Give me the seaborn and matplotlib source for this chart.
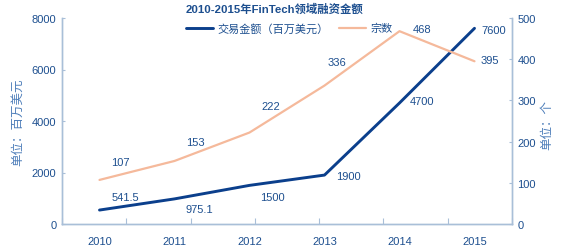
import numpy as np
import pandas as pd
import matplotlib
matplotlib.use("Agg")
import matplotlib.pyplot as plt
import seaborn as sns

years = ["2010", "2011", "2012", "2013", "2014", "2015"]
amount = [541.5, 975.1, 1500, 1900, 4700, 7600]
deals = [107, 153, 222, 336, 468, 395]
amount_labels = ["541.5", "975.1", "1500", "1900", "4700", "7600"]
deal_labels = ["107", "153", "222", "336", "468", "395"]

sns.set_theme(style="white")
plt.rcParams['font.family'] = ['Liberation Sans', 'Noto Sans CJK SC', 'DejaVu Sans']

BLUE = "#0b3f8c"
ORANGE = "#f5b99b"
TXT = "#1d4f8f"
SPINE = "#a9bfd8"
LAB = "#4f7fba"
FS = 8.0

df = pd.DataFrame({"x": np.arange(len(years)), "year": years,
                   "amount": amount, "deals": deals})

fig = plt.figure(figsize=(5.61, 2.51), dpi=100)
W, H = 561, 251
ax = fig.add_axes([62 / W, (H - 225) / H, 450 / W, (225 - 19) / H])
ax2 = ax.twinx()

sns.lineplot(data=df, x="x", y="amount", ax=ax, color=BLUE, lw=2.1,
             label="交易金额（百万美元）", legend=False)
sns.lineplot(data=df, x="x", y="deals", ax=ax2, color=ORANGE, lw=1.6,
             label="宗数", legend=False)

ax.set_xlim(-0.5, 5.5)
ax.set_ylim(0, 8000)
ax2.set_ylim(0, 500)
ax.set_yticks([0, 2000, 4000, 6000, 8000])
ax2.set_yticks([0, 100, 200, 300, 400, 500])
ax.set_xticks(np.arange(len(years)))
ax.set_xticklabels(years)
ax.set_xticks(np.linspace(-0.5, 5.5, 8), minor=True)
ax.tick_params(axis="x", which="major", length=0, pad=9, labelsize=FS, labelcolor=TXT)
ax.tick_params(axis="x", which="minor", direction="in", length=4, width=0.8, color=SPINE, bottom=True)
ax.tick_params(axis="y", direction="in", length=2.5, width=0.8, color=SPINE,
               labelsize=FS, labelcolor=TXT, pad=4, left=True)
ax2.tick_params(axis="y", direction="in", length=2.5, width=0.8, color=SPINE,
                labelsize=FS, labelcolor=TXT, pad=4, right=True)
ax.set_xlabel("")
ax.set_ylabel("")
ax2.set_ylabel("")

for a in (ax, ax2):
    a.spines["top"].set_visible(False)
    for s in ("left", "right", "bottom"):
        a.spines[s].set_color(SPINE)
        a.spines[s].set_linewidth(1.0)
    a.grid(False)

pt = 0.72
amt_off = [(26, -13), (25, 10), (23, 12), (24, 1), (23, -2), (19, 2)]
deal_off = [(21, -18), (21, -19), (21, -27), (12, -24), (23, -2), (15, -1)]
for i in range(len(years)):
    ax.annotate(amount_labels[i], (i, amount[i]),
                xytext=(amt_off[i][0] * pt, -amt_off[i][1] * pt), textcoords="offset points",
                ha="center", va="center", fontsize=FS, color=TXT)
    ax2.annotate(deal_labels[i], (i, deals[i]),
                 xytext=(deal_off[i][0] * pt, -deal_off[i][1] * pt), textcoords="offset points",
                 ha="center", va="center", fontsize=FS, color=TXT)

fig.text(275 / W, 1 - 9 / H, "2010-2015年FinTech领域融资金额", ha="center", va="center",
         fontsize=8.2, color=TXT, fontweight="bold")

h1, l1 = ax.get_legend_handles_labels()
h2, l2 = ax2.get_legend_handles_labels()
leg = fig.legend(h1 + h2, l1 + l2, loc="center left", bbox_to_anchor=(186 / W, 1 - 29 / H),
                 ncol=2, frameon=False, fontsize=8.0, handlelength=2.4, handletextpad=0.4,
                 columnspacing=1.0, borderaxespad=0, borderpad=0)
for t in leg.get_texts():
    t.set_color(TXT)

fig.text(18 / W, 1 - 122 / H, "单位：百万美元", rotation=90, ha="center", va="center",
         fontsize=9, color=LAB)
fig.text(547 / W, 1 - 125 / H, "单位：个", rotation=90, ha="center", va="center",
         fontsize=9, color=LAB)

fig.savefig("out.png", dpi=100)
